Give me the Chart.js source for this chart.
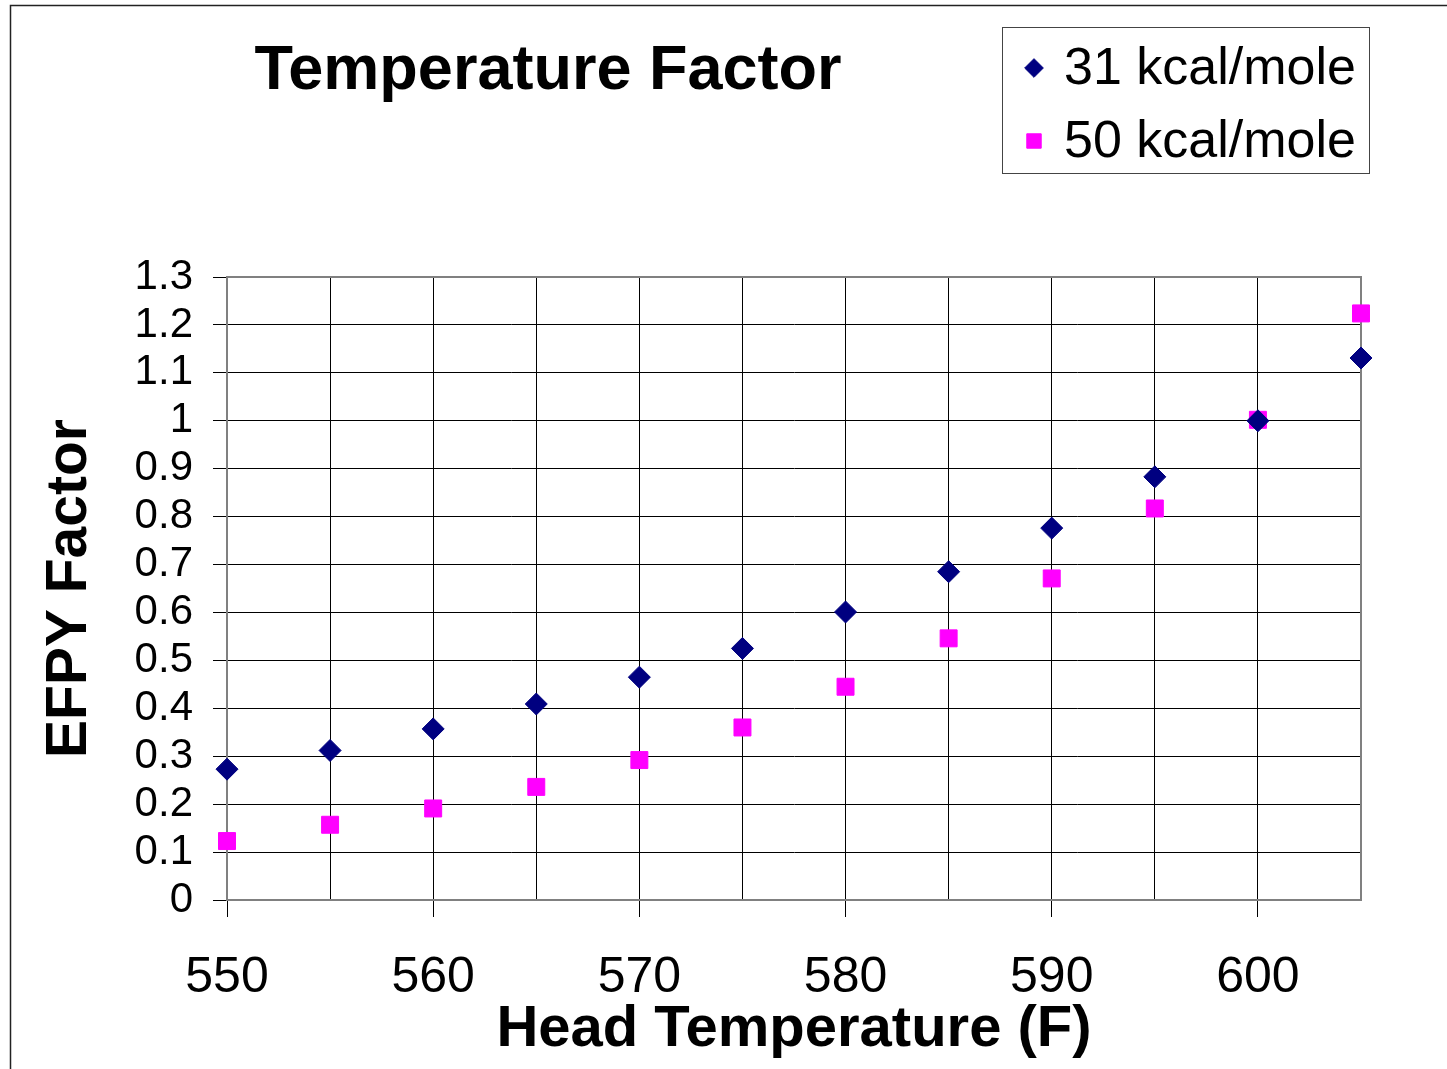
<!DOCTYPE html>
<html>
<head>
<meta charset="utf-8">
<script src="https://cdn.jsdelivr.net/npm/chart.js@4.4.1/dist/chart.umd.min.js"></script>
<style>
  html, body { margin: 0; padding: 0; background: #fff; overflow: hidden; }
  #wrap { position: relative; width: 1447px; height: 1069px; }
</style>
</head>
<body>
<div id="wrap"><canvas id="chart" width="1447" height="1069"></canvas></div>
<script>
// Head temperature (F)
const temps = [550, 555, 560, 565, 570, 575, 580, 585, 590, 595, 600, 605];
// EFPY factor, 31 kcal/mole
const factor31 = [0.273, 0.312, 0.357, 0.409, 0.465, 0.525, 0.601, 0.685, 0.776, 0.883, 1.0, 1.131];
// EFPY factor, 50 kcal/mole
const factor50 = [0.123, 0.157, 0.191, 0.236, 0.292, 0.360, 0.445, 0.546, 0.671, 0.817, 1.002, 1.224];

const seriesLabels = ['31 kcal/mole', '50 kcal/mole'];
const chartTitle = 'Temperature Factor';
const xTitle = 'Head Temperature (F)';
const yTitle = 'EFPY Factor';

const FONT = "'Liberation Sans', Arial, sans-serif";

function toPoints(ys) {
    return temps.map((t, i) => ({ x: t, y: ys[i] }));
}

// title, legend, frame
const overlayPlugin = {
    id: 'overlay',
    beforeDatasetsDraw(chart) {
        const { ctx, chartArea } = chart;
        ctx.save();
        ctx.strokeStyle = '#808080';
        ctx.lineWidth = 2;
        ctx.beginPath();
        ctx.moveTo(chartArea.left, chartArea.top);
        ctx.lineTo(chartArea.right, chartArea.top);
        ctx.lineTo(chartArea.right, chartArea.bottom);
        ctx.stroke();
        ctx.restore();
    },
    afterDraw(chart) {
        const ctx = chart.ctx;
        ctx.save();

        // outer frame (only left/top visible)
        ctx.strokeStyle = '#222';
        ctx.lineWidth = 1.5;
        ctx.beginPath();
        ctx.moveTo(10.5, 1069);
        ctx.lineTo(10.5, 5.5);
        ctx.lineTo(1447, 5.5);
        ctx.stroke();

        // title
        ctx.fillStyle = '#000';
        ctx.font = 'bold 63px ' + FONT;
        ctx.textAlign = 'center';
        ctx.textBaseline = 'middle';
        ctx.fillText(chartTitle, 548, 72);

        // legend
        ctx.strokeStyle = '#444';
        ctx.lineWidth = 1;
        ctx.fillStyle = '#fff';
        ctx.fillRect(1002, 27, 367, 146);
        ctx.strokeRect(1002.5, 27.5, 367, 146);

        const rows = [68, 141];
        chart.data.datasets.forEach((ds, i) => {
            ctx.save();
            ctx.fillStyle = ds.backgroundColor;
            ctx.strokeStyle = ds.backgroundColor;
            ctx.lineWidth = 1;
            Chart.helpers.drawPoint(ctx, {
                pointStyle: ds.pointStyle,
                radius: ds.pointRadius * 0.85,
                borderWidth: 1
            }, 1034, rows[i]);
            ctx.restore();
            ctx.fillStyle = '#000';
            ctx.font = '52px ' + FONT;
            ctx.textAlign = 'left';
            ctx.textBaseline = 'middle';
            ctx.fillText(ds.label, 1064, rows[i] + 2);
        });
        ctx.restore();
    }
};

new Chart(document.getElementById('chart'), {
    type: 'scatter',
    data: {
        datasets: [
            {
                label: seriesLabels[0],
                data: toPoints(factor31),
                pointStyle: 'rectRot',
                pointRadius: 11,
                borderWidth: 1,
                backgroundColor: '#000080',
                borderColor: '#000080',
                clip: false
            },
            {
                label: seriesLabels[1],
                data: toPoints(factor50),
                pointStyle: 'rect',
                pointRadius: 12,
                borderWidth: 1,
                backgroundColor: '#FF00FF',
                borderColor: '#FF00FF',
                clip: false
            }
        ]
    },
    options: {
        responsive: false,
        animation: false,
        events: [],
        layout: { padding: { top: 277, right: 86, left: 0, bottom: 0 } },
        plugins: {
            legend: { display: false },
            title: { display: false },
            tooltip: { enabled: false }
        },
        scales: {
            x: {
                type: 'linear',
                min: 550,
                max: 605,
                afterFit(scale) { scale.height = 169; },
                afterBuildTicks(scale) {
                    scale.ticks = temps.map(v => ({ value: v }));
                },
                ticks: {
                    autoSkip: false,
                    maxRotation: 0,
                    padding: 31,
                    color: '#000',
                    font: { family: FONT, size: 50 },
                    callback: v => (v % 10 === 0 ? String(v) : '')
                },
                grid: {
                    color: '#000',
                    lineWidth: 1,
                    drawTicks: true,
                    tickLength: 17,
                    tickColor: c => (c.tick && c.tick.value % 10 === 0 ? '#000' : 'rgba(0,0,0,0)')
                },
                border: { color: '#808080', width: 2 },
                title: {
                    display: true,
                    text: xTitle,
                    color: '#000',
                    font: { family: FONT, size: 58, weight: 'bold' },
                    padding: { top: 0, bottom: 4 }
                }
            },
            y: {
                min: 0,
                max: 1.3,
                afterFit(scale) { scale.width = 227; },
                ticks: {
                    stepSize: 0.1,
                    autoSkip: false,
                    padding: 20,
                    color: '#000',
                    font: { family: FONT, size: 42 },
                    callback: v => String(Math.round(v * 10) / 10)
                },
                grid: {
                    color: '#000',
                    lineWidth: 1,
                    tickLength: 14,
                    tickColor: '#000'
                },
                border: { color: '#808080', width: 2 },
                title: {
                    display: true,
                    text: yTitle,
                    color: '#000',
                    font: { family: FONT, size: 57, weight: 'bold' },
                    padding: { top: 36, bottom: 0 }
                }
            }
        }
    },
    plugins: [overlayPlugin]
});
</script>
</body>
</html>
